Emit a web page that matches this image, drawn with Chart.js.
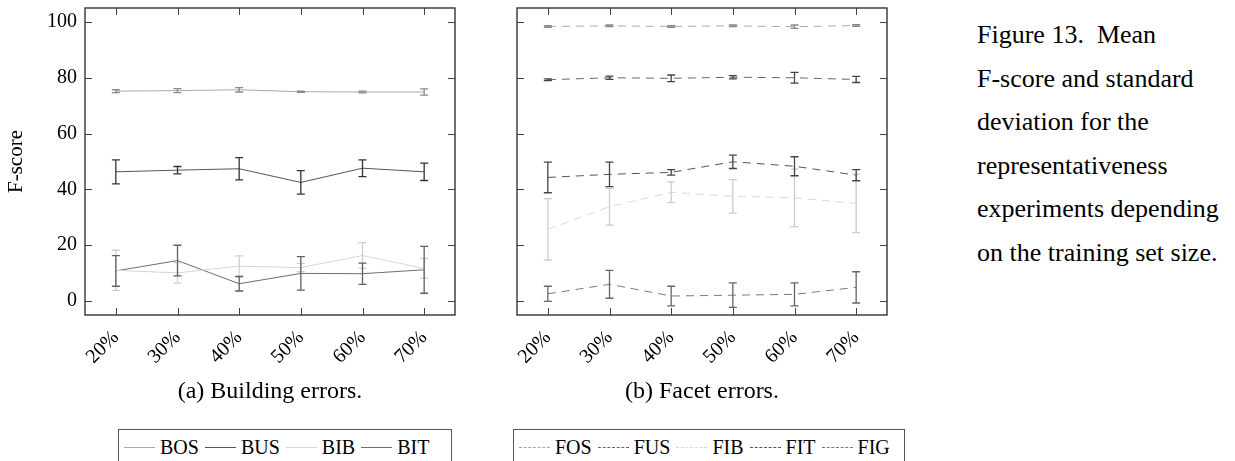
<!DOCTYPE html>
<html>
<head>
<meta charset="utf-8">
<script src="https://cdn.jsdelivr.net/npm/chart.js@4.4.1/dist/chart.umd.min.js"></script>
<style>
  body { margin: 0; background: #fff; width: 1235px; height: 461px; overflow: hidden; position: relative; font-family: "Liberation Serif", serif; color: #000; }
  .wrap { position: absolute; }
  .sub { position: absolute; text-align: center; font-size: 24px; }
  .legend { position: absolute; top: 429px; height: 60px; border: 1px solid #555; display: flex; align-items: flex-start; padding: 6px 0 0 5px; box-sizing: border-box; font-size: 20px; }
  .legend .item { display: flex; align-items: center; margin-right: 6px; }
  .legend .swatch { width: 31px; height: 0; margin-right: 5px; }
  .caption { position: absolute; left: 977px; top: 13px; font-size: 26px; line-height: 43.5px; white-space: nowrap; }
</style>
</head>
<body>
<div class="wrap" style="left:0;top:0;width:470px;height:380px"><canvas id="chartA"></canvas></div>
<div class="wrap" style="left:470px;top:0;width:430px;height:380px"><canvas id="chartB"></canvas></div>
<div class="sub" style="left:85px;width:370px;top:377px">(a) Building errors.</div>
<div class="sub" style="left:517px;width:370px;top:377px">(b) Facet errors.</div>
<div class="legend" id="legendA" style="left:118px;width:334px"></div>
<div class="legend" id="legendB" style="left:513px;width:392px"></div>
<div class="caption">Figure 13.&nbsp; Mean<br>F-score and standard<br>deviation for the<br>representativeness<br>experiments depending<br>on the training set size.</div>
<script>
const sizes = ["20%", "30%", "40%", "50%", "60%", "70%"];
const yTicks = [0, 20, 40, 60, 80, 100];

// (a) building errors: mean F-score and standard deviation
const bos = [75.2, 75.4, 75.7, 75.0, 74.9, 74.9];
const bosSd = [0.5, 0.7, 0.8, 0.2, 0.3, 1.1];
const bus = [46.3, 46.9, 47.4, 42.5, 47.6, 46.3];
const busSd = [4.3, 1.3, 4.0, 4.2, 3.0, 3.1];
const bib = [11.0, 10.1, 12.5, 12.0, 16.3, 11.7];
const bibSd = [7.2, 3.7, 3.7, 1.5, 4.6, 3.6];
const bit = [10.8, 14.5, 6.2, 9.9, 9.8, 11.2];
const bitSd = [5.5, 5.5, 2.6, 6.0, 3.8, 8.4];

// (b) facet errors
const fos = [98.4, 98.6, 98.4, 98.6, 98.3, 98.7];
const fosSd = [0.3, 0.3, 0.3, 0.3, 0.6, 0.3];
const fus = [79.3, 80.0, 79.8, 80.2, 80.0, 79.4];
const fusSd = [0.3, 0.6, 1.2, 0.6, 1.9, 1.1];
const fib = [25.7, 33.8, 39.0, 37.5, 37.0, 35.0];
const fibSd = [11.0, 6.6, 3.7, 6.0, 10.3, 10.5];
const fit = [44.3, 45.4, 46.1, 49.9, 48.3, 45.1];
const fitSd = [5.5, 4.4, 1.0, 2.4, 3.4, 2.0];
const fig = [2.6, 6.0, 1.8, 2.1, 2.4, 4.9];
const figSd = [2.7, 5.0, 3.5, 4.4, 4.1, 5.6];

const dash = [8, 6];

const errorBars = {
  id: "errorBars",
  afterDatasetsDraw(chart) {
    const ctx = chart.ctx;
    const y = chart.scales.y;
    chart.data.datasets.forEach((ds, i) => {
      if (!ds.sd) return;
      const meta = chart.getDatasetMeta(i);
      ctx.save();
      ctx.strokeStyle = ds.errColor || ds.borderColor;
      ctx.lineWidth = 1.3;
      ctx.setLineDash([]);
      meta.data.forEach((pt, j) => {
        const top = y.getPixelForValue(ds.data[j] + ds.sd[j]);
        const bot = y.getPixelForValue(ds.data[j] - ds.sd[j]);
        ctx.beginPath();
        ctx.moveTo(pt.x, top); ctx.lineTo(pt.x, bot);
        ctx.moveTo(pt.x - 4, top); ctx.lineTo(pt.x + 4, top);
        ctx.moveTo(pt.x - 4, bot); ctx.lineTo(pt.x + 4, bot);
        ctx.stroke();
      });
      ctx.restore();
    });
  }
};

const frame = {
  id: "frame",
  afterDraw(chart) {
    const ctx = chart.ctx;
    const a = chart.chartArea;
    const x = chart.scales.x, y = chart.scales.y;
    ctx.save();
    ctx.strokeStyle = "#444";
    ctx.lineWidth = 1;
    ctx.beginPath();
    x.ticks.forEach((t, i) => {
      const px = Math.round(x.getPixelForTick(i)) + 0.5;
      ctx.moveTo(px, a.bottom); ctx.lineTo(px, a.bottom - 7);
      ctx.moveTo(px, a.top); ctx.lineTo(px, a.top + 7);
    });
    yTicks.forEach(v => {
      const py = Math.round(y.getPixelForValue(v)) + 0.5;
      ctx.moveTo(a.left, py); ctx.lineTo(a.left + 7, py);
      ctx.moveTo(a.right, py); ctx.lineTo(a.right - 7, py);
    });
    ctx.stroke();
    ctx.lineWidth = 1.4;
    ctx.strokeStyle = "#333";
    ctx.strokeRect(a.left, a.top, a.right - a.left, a.bottom - a.top);
    ctx.restore();
  }
};

function makeChart(id, datasets, yWidth, padRight, showY) {
  return new Chart(document.getElementById(id), {
    type: "line",
    data: { labels: sizes, datasets },
    options: {
      responsive: true,
      maintainAspectRatio: false,
      animation: false,
      layout: { padding: { top: 8, right: padRight, left: 0, bottom: 0 } },
      elements: { point: { radius: 0 }, line: { tension: 0, borderWidth: 1 } },
      plugins: { legend: { display: false }, tooltip: { enabled: false } },
      scales: {
        x: {
          offset: true,
          grid: { display: false, drawTicks: false },
          border: { display: false },
          afterFit: s => { s.height = 65; s.paddingLeft = 0; s.paddingRight = 0; },
          ticks: {
            autoSkip: false, minRotation: 45, maxRotation: 45, padding: 11,
            color: "#000", font: { family: "Liberation Serif", size: 20 }
          }
        },
        y: {
          min: -5, max: 105,
          grid: { display: false, drawTicks: false },
          border: { display: false },
          afterBuildTicks: s => { s.ticks = yTicks.map(v => ({ value: v })); },
          afterFit: s => { s.width = yWidth; s.paddingTop = 0; s.paddingBottom = 0; },
          ticks: {
            display: showY, padding: 8,
            color: "#000", font: { family: "Liberation Serif", size: 20 }
          },
          title: {
            display: showY, text: "F-score", color: "#000",
            font: { family: "Liberation Serif", size: 21 }
          }
        }
      }
    },
    plugins: [errorBars, frame]
  });
}

const dsA = [
  { label: "BOS", data: bos, sd: bosSd, borderColor: "#a8a8a8", errColor: "#8a8a8a" },
  { label: "BUS", data: bus, sd: busSd, borderColor: "#555555", errColor: "#333333" },
  { label: "BIB", data: bib, sd: bibSd, borderColor: "#d6d6d6", errColor: "#cfcfcf" },
  { label: "BIT", data: bit, sd: bitSd, borderColor: "#6e6e6e", errColor: "#606060" }
];
const dsB = [
  { label: "FOS", data: fos, sd: fosSd, borderColor: "#a8a8a8", errColor: "#8a8a8a", borderDash: dash },
  { label: "FUS", data: fus, sd: fusSd, borderColor: "#666666", errColor: "#444444", borderDash: dash },
  { label: "FIB", data: fib, sd: fibSd, borderColor: "#d8d8d8", errColor: "#cccccc", borderDash: dash },
  { label: "FIT", data: fit, sd: fitSd, borderColor: "#555555", errColor: "#444444", borderDash: dash },
  { label: "FIG", data: fig, sd: figSd, borderColor: "#7a7a7a", errColor: "#666666", borderDash: dash }
];

makeChart("chartA", dsA, 85, 15, true);
makeChart("chartB", dsB, 47, 13, false);

function buildLegend(id, datasets) {
  const box = document.getElementById(id);
  datasets.forEach(ds => {
    const item = document.createElement("div");
    item.className = "item";
    const sw = document.createElement("span");
    sw.className = "swatch";
    sw.style.borderTop = "1.2px " + (ds.borderDash ? "dashed " : "solid ") + ds.borderColor;
    const tx = document.createElement("span");
    tx.textContent = ds.label;
    item.appendChild(sw);
    item.appendChild(tx);
    box.appendChild(item);
  });
}
buildLegend("legendA", dsA);
buildLegend("legendB", dsB);
</script>
</body>
</html>
